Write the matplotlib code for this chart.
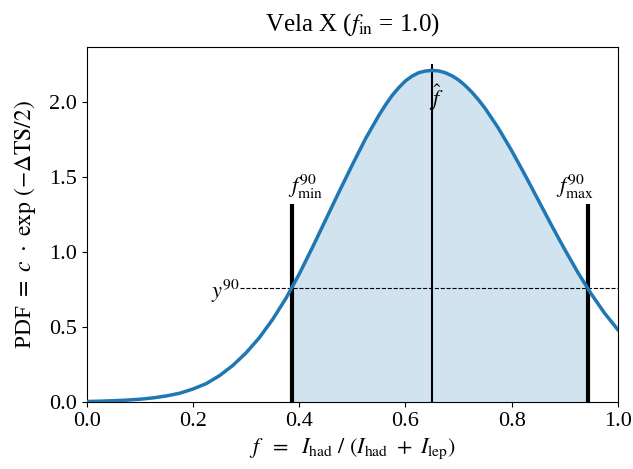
import numpy as np
import matplotlib
matplotlib.use("Agg")
import matplotlib.pyplot as plt

plt.rcParams['font.family'] = ['Liberation Serif', 'DejaVu Serif']
plt.rcParams['mathtext.fontset'] = 'stix'
plt.rcParams['font.size'] = 16

# PDF
f = [0.0, 0.025, 0.05, 0.075, 0.1, 0.125, 0.15, 0.175, 0.2, 0.225, 0.25,
     0.275, 0.3, 0.325, 0.35, 0.375, 0.4, 0.425, 0.45, 0.475, 0.5,
     0.525, 0.55, 0.5625, 0.575, 0.5875, 0.6, 0.6125, 0.625, 0.6375, 0.65,
     0.6625, 0.675, 0.6875, 0.7, 0.7125, 0.725, 0.7375, 0.75,
     0.775, 0.8, 0.825, 0.85, 0.875, 0.9, 0.925, 0.95, 0.975, 1.0]
pdf = [0.003, 0.005, 0.008, 0.012, 0.018, 0.027, 0.040, 0.058, 0.086, 0.122, 0.175,
       0.243, 0.327, 0.428, 0.550, 0.690, 0.852, 1.030, 1.215, 1.400, 1.580,
       1.755, 1.910, 1.980, 2.043, 2.095, 2.140, 2.172, 2.195, 2.206, 2.210,
       2.207, 2.195, 2.175, 2.147, 2.110, 2.066, 2.015, 1.958,
       1.826, 1.676, 1.515, 1.347, 1.179, 1.017, 0.862, 0.720, 0.592, 0.482]

f_hat = 0.651
f_min = 0.386
f_max = 0.943
y90 = 0.76
y90_start = 0.288

f = np.array(f)
pdf = np.array(pdf)

fig = plt.figure(figsize=(6.33, 4.69), dpi=100)
ax = fig.add_axes([0.137, 0.143, 0.839, 0.757])

ax.plot(f, pdf, color='C0', lw=2.5, zorder=3, solid_joinstyle='round')

inner = (f > f_min) & (f < f_max)
fx = np.concatenate([[f_min], f[inner], [f_max]])
fy = np.concatenate([[np.interp(f_min, f, pdf)], pdf[inner], [np.interp(f_max, f, pdf)]])
ax.fill_between(fx, 0, fy, color='C0', alpha=0.2, lw=0)

ax.vlines(f_hat, 0, 2.25, color='k', lw=1.5)
ax.vlines([f_min, f_max], 0, 1.32, color='k', lw=3)
ax.hlines(y90, y90_start, 1.0, color='k', lw=0.8, linestyles='--')

ax.text(f_min + 0.026, 1.34, r'$f^{90}_{\rm min}$', ha='center', va='bottom', fontsize=16)
ax.text(f_max - 0.024, 1.34, r'$f^{90}_{\rm max}$', ha='center', va='bottom', fontsize=16)
ax.text(f_hat + 0.008, 2.03, r'$\hat{f}$', ha='center', va='center', fontsize=16)
ax.text(y90_start, y90 - 0.02, r'$y^{90}$', ha='right', va='center', fontsize=16)

ax.set_xlim(0, 1.0)
ax.set_ylim(0, 2.367)
ax.set_xticks([0.0, 0.2, 0.4, 0.6, 0.8, 1.0])
ax.set_yticks([0.0, 0.5, 1.0, 1.5, 2.0])
ax.set_xlabel(r'$f\ \ =\ \ I_{\rm had}\ /\ (I_{\rm had}\ +\ I_{\rm lep})$')
ax.set_ylabel(r'PDF $=\ c\ \cdot\ \exp\,(-\Delta{\rm TS}/2)$', fontsize=17, labelpad=8)
ax.set_title(r'Vela X ($f_{\rm in}$ = 1.0)', fontsize=18, pad=12)

fig.savefig('out.png', dpi=100)
